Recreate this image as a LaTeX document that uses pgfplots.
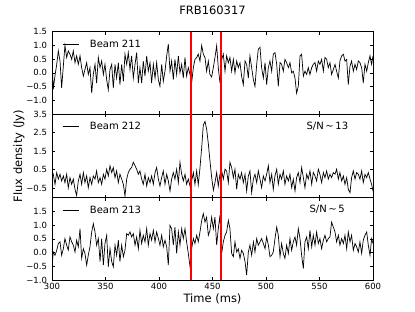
\documentclass[border=0pt]{standalone}
\usepackage{fontspec}
\setmainfont{DejaVu Sans}
\usepackage{pgfplots}
\pgfplotsset{compat=1.18}
\usepackage{pgfplotstable}

\pgfplotstableread{
t a b c
300.0 0.5 0.08 -0.5
301.2 -0.6 0.26 0.02
302.8 -0.1 -0.28 -0.1
304.4 0.31 0.35 0.08
305.9 0.8 0 0.33
307.5 0.43 0.26 0.39
309.0 -0.55 -0.1 -0.1
310.6 0.25 0.17 0.14
312.1 1.0 -0.19 0.51
313.7 0.56 0.26 0.27
315.2 0.8 -0.46 0.09
316.8 0.68 0.08 0.57
318.4 0.49 -0.28 0.39
319.9 0.8 0 0.27
321.5 0.37 -0.55 0.02
323.0 0.62 -0.88 0.45
324.6 0.31 -0.1 0.21
326.2 0.62 0.26 0.87
327.7 0.19 -0.28 -0.21
329.3 -0.12 0.35 0.14
330.8 0.12 -0.19 -0.03
332.4 0.37 0.17 -0.46
333.9 -0.06 -0.46 -0.1
335.5 0.19 0.08 0.21
337.1 -0.74 -0.28 0.75
338.6 -0.06 0.17 1.05
340.2 0.31 0 0.75
341.7 -0.37 0.44 0.27
343.3 0.56 -0.19 0.51
344.9 0.19 0.08 -0.33
346.4 0.43 -0.28 0.51
348.0 -0.06 0.26 -0.46
349.5 0.31 0 0.33
351.1 -0.25 0.53 0.63
352.6 -0.62 0.17 -0.52
354.2 0.12 0.72 0.14
355.8 0.31 0.35 -0.33
357.3 -0.56 0.62 -0.52
358.9 0.31 0.08 0.27
360.4 -0.19 0.44 -0.1
362.0 0.37 -0.19 0.45
363.5 -0.43 0.26 -0.33
365.1 0.31 0 0.27
366.7 -0.31 -0.28 -0.15
368.2 0.68 -0.91 0.08
369.8 0.31 0 0.69
371.3 0.74 0.35 0.63
372.9 0.12 0.53 0.75
374.4 0.62 0.62 0.57
376.0 -0.19 0.9 0.69
377.6 0.31 0.72 0.27
379.1 0.74 0.53 0.57
380.7 -0.37 0.26 0.14
382.2 0.19 0.44 0.81
383.8 -0.37 0 0.33
385.3 0.43 -0.28 0.63
386.9 -0.12 0.26 0.39
388.5 0.62 -0.37 0.87
390.0 0.06 0.08 0.27
391.6 0.37 -0.19 0.69
393.1 -0.37 0.17 0.45
394.7 0.31 -0.28 0.81
396.3 -0.19 0.35 0.39
397.8 0.37 0.62 0.75
399.4 -0.25 0 0.51
400.9 -0.49 -0.37 0.27
402.5 0.31 0.08 0.63
404.0 -0.31 0.44 0.21
405.6 0.06 -0.28 0.45
407.2 0.62 0.26 0.21
408.7 1.05 -0.1 -0.46
410.3 0.06 -0.64 0.99
411.8 0.43 0 0.87
413.4 -0.25 0.35 0.27
414.9 0.49 0 0.93
416.5 -0.06 0.53 -0.03
418.1 0.62 -0.19 0.75
419.6 0 0.9 0.27
421.2 0.31 0.26 0.87
422.7 -0.19 -0.1 0.51
424.3 0.56 0.26 0.87
425.8 -0.12 -0.28 0.39
427.4 0.19 0 -0.03
429.0 -0.06 -0.37 -0.52
430.5 -0.37 -0.1 0.14
432.1 0.19 0.35 0.51
433.6 0.49 -0.28 0.33
435.2 0.56 0.44 0.63
436.7 0.68 -0.3 0.39
438.3 0.43 0.6 0.75
439.9 1.0 1.7 1.17
441.4 0.68 2.9 1.42
443.0 0.56 3.1 1.11
444.5 0.06 2.7 1.29
446.1 0.43 1.9 0.63
447.6 -0.06 1.0 0.8
449.2 -0.15 0.1 1.29
450.8 0.2 -0.6 0.87
452.3 0.56 -0.2 1.29
453.9 0.99 0.35 0.27
455.4 0.19 -0.37 0.87
457.0 -0.37 0.26 1.36
458.6 0.49 0.44 -0.03
460.1 0.68 0 0.39
461.7 0.06 0.53 0.63
463.2 0.62 0.44 0.75
464.8 0.37 -0.19 1.17
466.3 0.56 0.9 0.87
467.9 0.06 0.62 -0.03
469.5 0.49 0.08 -0.15
471.0 0 0.53 0.39
472.6 0.43 -0.55 0.02
474.1 0.19 0.26 0.14
475.7 0.37 0 -0.21
477.2 -0.12 0.35 0.08
478.8 -0.43 -0.19 -0.03
480.4 0.43 0.26 -0.33
481.9 0.31 -0.64 -0.82
483.5 -0.19 0.17 0.02
485.0 0.62 0.44 0.27
486.6 0.19 -0.73 -0.1
488.2 -0.25 0 0.39
489.7 -0.49 0.26 0.02
491.3 0.31 -0.19 0.51
492.8 0.86 0.44 0.27
494.4 0.93 0 0.39
495.9 0.19 -0.46 0.51
497.5 -0.19 0.17 0.33
499.1 0.37 -0.1 0.14
500.6 -0.43 0.26 0.57
502.2 0.19 0.72 0.27
503.7 0.43 -0.19 -0.15
505.3 0.06 0.26 -0.1
506.8 0.68 -0.55 0.02
508.4 0.74 0.17 0.51
510.0 0.31 0.53 0.93
511.5 -0.49 -0.28 0.63
513.1 0.37 0.26 -0.15
514.6 0.31 0 0.33
516.2 0.06 0.44 -0.03
517.7 0.49 -0.28 -0.21
519.3 0.37 0.17 0.27
520.9 0.19 -0.1 -0.03
522.4 0.37 0.26 0.51
524.0 0 -0.46 0.08
525.5 0.06 0 0.39
527.1 -0.19 -0.64 0.57
528.6 -0.74 0.08 0.27
530.2 -0.49 0.35 0.87
531.8 0.62 -0.19 0.51
533.3 0.68 0.62 -0.1
534.9 -0.12 0.08 -0.58
536.4 0.06 -0.46 0.39
538.0 -0.06 0.26 0.57
539.5 0.19 0 0.14
541.1 -0.06 0.44 0.81
542.7 0.19 -0.28 0.21
544.2 0.31 0.35 0.63
545.8 0.37 0.17 0.27
547.3 0.06 -0.1 0.75
548.9 0.43 0.53 0.33
550.4 0.31 0.26 0.51
552.0 0.49 -0.19 0.14
553.6 0.06 0.35 0.45
555.1 0.56 0.08 0.63
556.7 0.49 0.44 0.39
558.2 0.19 0 0.51
559.8 0.37 0.26 0.57
561.3 -0.06 0.08 1.11
562.9 0.12 0.35 0.93
564.5 0.31 0.26 0.75
566.0 0.06 0.53 0.39
567.6 -0.19 0 0.63
569.1 0.43 0.35 0.27
570.7 0.62 -0.1 0.51
572.3 0.68 0.17 0.33
573.8 0.43 -0.28 0.63
575.4 0.49 0.08 0.14
576.9 -0.43 -0.55 0.75
578.5 0.25 -0.73 0.39
580.0 0.43 0.08 0.63
581.6 0.06 0.44 0.08
583.2 0.31 0 0.33
584.7 0.12 0.35 0.21
586.3 0.43 0.26 0.02
587.8 0.37 0 0.39
589.4 0.19 0.44 -0.03
590.9 -0.37 -0.19 0.45
592.5 0.31 0.26 0.63
594.1 0.06 0.08 0.75
595.6 0.37 0.35 0.27
597.2 0.62 0 -0.1
598.7 0.31 -0.28 0.51
600.0 0.62 -0.64 0.33
}\datatable

\pgfplotstableread{
t ya yb yc
430 -1.5 -1 -1
430 1.5 3.5 2
}\lineA
\pgfplotstableread{
t ya yb yc
458 -1.5 -1 -1
458 1.5 3.5 2
}\lineB

\pgfplotsset{
  panel/.style={
    scale only axis, width=321pt,
    xmin=300, xmax=600, xtick={300,350,400,450,500,550,600},
    tick align=inside, tick pos=both, major tick length=3pt,
    axis line style={line width=0.7pt},
    every tick/.style={black, line width=0.6pt},
    tick label style={font=\fontsize{8.5}{10}\selectfont},
    yticklabel style={xshift=-1.5pt},
    legend image code/.code={\draw[##1] (0pt,0pt) -- (16pt,0pt);},
    legend style={draw=none, fill=none, at={(rel axis cs:0,1)}, anchor=north west,
      xshift=10pt, yshift=-8pt, font=\fontsize{10}{12}\selectfont,
      inner sep=0pt, nodes={inner sep=0pt},
      /tikz/every odd column/.append style={column sep=11pt}},
  },
}

\begin{document}
\begin{tikzpicture}
\path[use as bounding box] (0,0) rectangle (415pt,312pt);

\begin{axis}[panel, at={(52pt,198pt)}, anchor=south west, height=82.3pt,
  ymin=-1.5, ymax=1.5, ytick={-1,-0.5,0,0.5,1,1.5},
  yticklabels={−1.0,−0.5,0.0,0.5,1.0,1.5}, xticklabels={}]
\addplot[black, line width=0.7pt] table[x=t, y=a] {\datatable};
\addlegendentry{Beam 211}
\addplot[red, line width=1.5pt, forget plot] table[x=t, y=ya] {\lineA};
\addplot[red, line width=1.5pt, forget plot] table[x=t, y=ya] {\lineB};
\end{axis}

\begin{axis}[panel, at={(52pt,114.3pt)}, anchor=south west, height=83.7pt,
  ymin=-1, ymax=3.5, ytick={-0.5,0.5,1.5,2.5,3.5},
  yticklabels={−0.5,0.5,1.5,2.5,3.5}, xticklabels={}]
\addplot[black, line width=0.7pt] table[x=t, y=b] {\datatable};
\addlegendentry{Beam 212}
\addplot[red, line width=1.5pt, forget plot] table[x=t, y=yb] {\lineA};
\addplot[red, line width=1.5pt, forget plot] table[x=t, y=yb] {\lineB};
\node[anchor=west, font=\fontsize{10}{12}\selectfont] at (axis cs:534.6,2.85) {S/N\,∼\,13};
\end{axis}

\begin{axis}[panel, at={(52pt,32pt)}, anchor=south west, height=82.3pt,
  ymin=-1, ymax=2, ytick={-1,-0.5,0,0.5,1,1.5},
  yticklabels={−1.0,−0.5,0.0,0.5,1.0,1.5},
  xticklabels={300,350,400,450,500,550,600}]
\addplot[black, line width=0.7pt] table[x=t, y=c] {\datatable};
\addlegendentry{Beam 213}
\addplot[red, line width=1.5pt, forget plot] table[x=t, y=yc] {\lineA};
\addplot[red, line width=1.5pt, forget plot] table[x=t, y=yc] {\lineB};
\node[anchor=west, font=\fontsize{10}{12}\selectfont] at (axis cs:537.4,1.57) {S/N\,∼\,5};
\end{axis}

\node[anchor=base, font=\fontsize{11.5}{14}\selectfont] at (212.5pt,297pt) {FRB160317};
\node[anchor=base, font=\fontsize{11.5}{14}\selectfont] at (212.5pt,9.5pt) {Time (ms)};
\node[anchor=base, rotate=90, font=\fontsize{11.5}{14}\selectfont] at (22pt,156pt) {Flux density (Jy)};
\end{tikzpicture}
\end{document}
